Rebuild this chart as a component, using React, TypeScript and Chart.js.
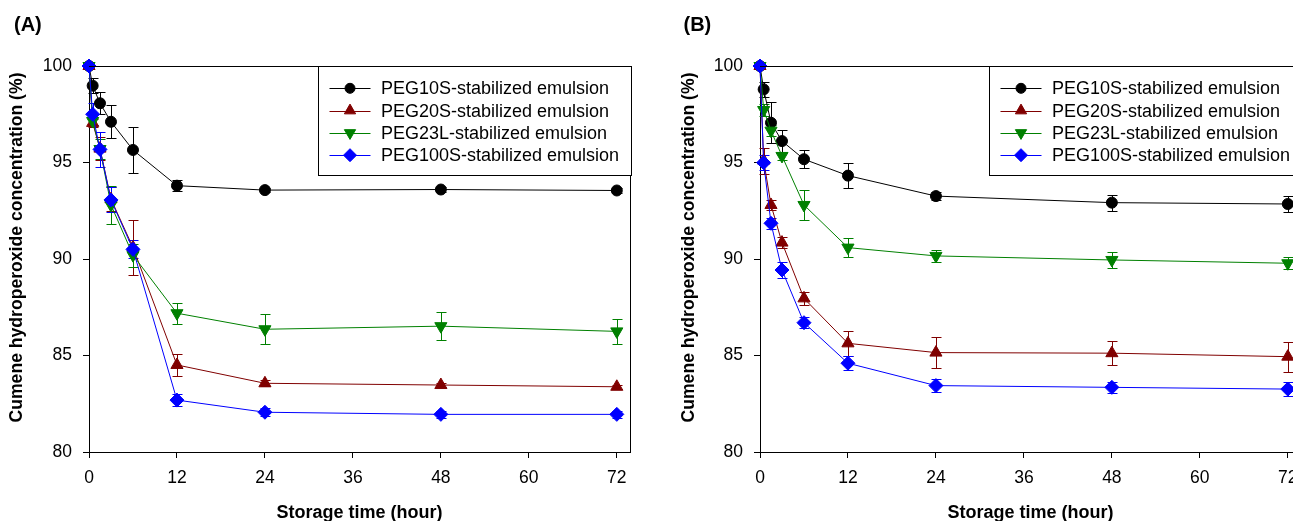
import React, { useEffect, useRef } from 'react';
import { Chart, registerables } from 'chart.js';

Chart.register(...registerables);

// ---------- data ----------
const hours = [0, 0.5, 1.5, 3, 6, 12, 24, 48, 72];
const xTickValues = [0, 12, 24, 36, 48, 60, 72];
const yTickValues = [80, 85, 90, 95, 100];
const seriesNames = [
  'PEG10S-stabilized emulsion',
  'PEG20S-stabilized emulsion',
  'PEG23L-stabilized emulsion',
  'PEG100S-stabilized emulsion',
];
const xAxisTitle = 'Storage time (hour)';
const yAxisTitle = 'Cumene hydroperoxide concentration (%)';

// Panel A
const peg10sA = [100, 98.98, 98.07, 97.11, 95.65, 93.8, 93.57, 93.6, 93.55];
const peg10sAErr = [0, 0.4, 0.58, 0.86, 1.21, 0.28, 0.1, 0.15, 0.15];
const peg20sA = [100, 97.05, 95.72, 93.1, 90.6, 84.51, 83.56, 83.47, 83.38];
const peg20sAErr = [0, 0.2, 0.6, 0.62, 1.42, 0.56, 0.15, 0.12, 0.1];
const peg23lA = [100, 97.15, 95.7, 92.8, 90.2, 87.19, 86.36, 86.52, 86.25];
const peg23lAErr = [0, 0.2, 0.5, 1.0, 0.6, 0.55, 0.77, 0.73, 0.66];
const peg100sA = [100, 97.5, 95.68, 93.06, 90.5, 82.69, 82.06, 81.95, 81.95];
const peg100sAErr = [0, 0.56, 0.9, 0.65, 0.47, 0.3, 0.2, 0.2, 0.2];

// Panel B
const peg10sB = [100, 98.79, 97.06, 96.11, 95.17, 94.32, 93.26, 92.92, 92.85];
const peg10sBErr = [0, 0.39, 1.05, 0.59, 0.47, 0.66, 0.2, 0.41, 0.4];
const peg20sB = [100, 95.1, 92.8, 90.85, 87.96, 85.63, 85.15, 85.12, 84.94];
const peg20sBErr = [0, 0.67, 0.25, 0.3, 0.35, 0.66, 0.8, 0.61, 0.77];
const peg23lB = [100, 97.72, 96.65, 95.34, 92.8, 90.59, 90.16, 89.95, 89.78];
const peg23lBErr = [0, 0.3, 0.3, 0.2, 0.8, 0.5, 0.3, 0.41, 0.3];
const peg100sB = [100, 94.99, 91.85, 89.43, 86.7, 84.6, 83.44, 83.35, 83.26];
const peg100sBErr = [0, 0.4, 0.3, 0.4, 0.3, 0.35, 0.35, 0.3, 0.35];

// ---------- styles ----------
const FONT = "'Liberation Sans', Arial, Helvetica, sans-serif";
const seriesStyles = [
  { color: '#000000', shape: 'circle', radius: 5.5, rotation: 0 },
  { color: '#800000', shape: 'triangle', radius: 7, rotation: 0 },
  { color: '#008000', shape: 'triangle', radius: 7, rotation: 180 },
  { color: '#0000ff', shape: 'rectRot', radius: 7, rotation: 0 },
];

const CW = 671;
const CH = 521;

function drawMarker(ctx: CanvasRenderingContext2D, shape: string, x: number, y: number, r: number, rot: number, color: string) {
  ctx.save();
  ctx.fillStyle = color;
  ctx.strokeStyle = color;
  ctx.lineWidth = 1;
  ctx.beginPath();
  if (shape === 'circle') {
    ctx.arc(x, y, r, 0, Math.PI * 2);
  } else if (shape === 'triangle') {
    const base = (rot * Math.PI) / 180;
    for (let k = 0; k < 3; k++) {
      const a = base + (k * 2 * Math.PI) / 3;
      const px = x + Math.sin(a) * r;
      const py = y - Math.cos(a) * r;
      if (k === 0) ctx.moveTo(px, py);
      else ctx.lineTo(px, py);
    }
    ctx.closePath();
  } else {
    ctx.moveTo(x - r, y);
    ctx.lineTo(x, y - r);
    ctx.lineTo(x + r, y);
    ctx.lineTo(x, y + r);
    ctx.closePath();
  }
  ctx.fill();
  ctx.stroke();
  ctx.restore();
}

type PanelProps = {
  values: number[][];
  errors: number[][];
  letter: string;
  letterX: number;
  yTitleX: number;
  left: number;
};

function Panel({ values, errors, letter, letterX, yTitleX, left }: PanelProps) {
  const ref = useRef<HTMLCanvasElement>(null);

  useEffect(() => {
    const canvas = ref.current;
    if (!canvas) return;

    const decor = {
      id: 'decor',
      beforeDatasetsDraw(chart: any) {
        const ctx: CanvasRenderingContext2D = chart.ctx;
        const xs = chart.scales.x;
        const ys = chart.scales.y;
        chart.data.datasets.forEach((ds: any) => {
          const errs: number[] = ds.errors;
          ctx.save();
          ctx.strokeStyle = ds.borderColor;
          ctx.lineWidth = 1;
          ds.data.forEach((pt: any, i: number) => {
            const e = errs[i];
            if (!e) return;
            const px = Math.round(xs.getPixelForValue(pt.x)) + 0.5;
            const yt = Math.round(ys.getPixelForValue(pt.y + e)) + 0.5;
            const yb = Math.round(ys.getPixelForValue(pt.y - e)) + 0.5;
            ctx.beginPath();
            ctx.moveTo(px, yt);
            ctx.lineTo(px, yb);
            ctx.moveTo(px - 5, yt);
            ctx.lineTo(px + 5, yt);
            ctx.moveTo(px - 5, yb);
            ctx.lineTo(px + 5, yb);
            ctx.stroke();
          });
          ctx.restore();
        });
      },
      afterDraw(chart: any) {
        const ctx: CanvasRenderingContext2D = chart.ctx;
        const a = chart.chartArea;
        ctx.save();
        // frame (top + right)
        ctx.strokeStyle = '#000';
        ctx.lineWidth = 1;
        ctx.beginPath();
        ctx.moveTo(a.left, a.top + 0.5);
        ctx.lineTo(a.right + 0.5, a.top + 0.5);
        ctx.lineTo(a.right + 0.5, a.bottom);
        ctx.stroke();

        // legend
        const bx = Math.round(a.left + 229) + 0.5;
        const by = a.top + 0.5;
        const bw = a.right + 1.5 - bx;
        const bh = 109;
        ctx.fillStyle = '#fff';
        ctx.fillRect(bx, by, bw, bh);
        ctx.strokeRect(bx, by, bw, bh);
        ctx.font = `18px ${FONT}`;
        ctx.textAlign = 'left';
        ctx.textBaseline = 'middle';
        seriesNames.forEach((name, k) => {
          const st = seriesStyles[k];
          const ry = a.top + 22.3 + k * 22.3;
          ctx.strokeStyle = st.color;
          ctx.lineWidth = 1;
          ctx.beginPath();
          ctx.moveTo(bx + 11, Math.round(ry) + 0.5);
          ctx.lineTo(bx + 52, Math.round(ry) + 0.5);
          ctx.stroke();
          drawMarker(ctx, st.shape, bx + 31.5, ry, st.radius - 0.5, st.rotation, st.color);
          ctx.fillStyle = '#000';
          ctx.fillText(name, bx + 62.5, ry + 1);
        });

        // axis titles
        ctx.fillStyle = '#000';
        ctx.font = `bold 18px ${FONT}`;
        ctx.textAlign = 'center';
        ctx.textBaseline = 'alphabetic';
        ctx.fillText(xAxisTitle, (a.left + a.right) / 2, 518);
        ctx.save();
        ctx.translate(yTitleX, 247.5);
        ctx.rotate(-Math.PI / 2);
        ctx.font = `bold 17.6px ${FONT}`;
        ctx.fillText(yAxisTitle, 0, 0);
        ctx.restore();

        // panel letter
        ctx.font = `bold 20px ${FONT}`;
        ctx.textAlign = 'left';
        ctx.fillText(letter, letterX, 31);
        ctx.restore();
      },
    };

    const datasets = values.map((vals, k) => {
      const st = seriesStyles[k];
      return {
        label: seriesNames[k],
        data: hours.map((h, i) => ({ x: h, y: vals[i] })),
        errors: errors[k],
        borderColor: st.color,
        backgroundColor: st.color,
        borderWidth: 1,
        pointStyle: st.shape,
        pointRadius: st.radius,
        pointRotation: st.rotation,
        pointBackgroundColor: st.color,
        pointBorderColor: st.color,
        pointBorderWidth: 1,
        tension: 0,
        clip: false,
        order: 3 - k,
      } as any;
    });

    const chart = new Chart(canvas, {
      type: 'line',
      data: { datasets },
      options: {
        animation: false,
        responsive: false,
        devicePixelRatio: 1,
        events: [],
        layout: { padding: { left: 0, top: 66, right: CW - 630, bottom: 0 } },
        plugins: { legend: { display: false }, tooltip: { enabled: false }, title: { display: false } },
        scales: {
          x: {
            type: 'linear',
            min: 0,
            max: 73.8,
            afterBuildTicks: (s: any) => {
              s.ticks = xTickValues.map((v) => ({ value: v }));
            },
            afterFit: (s: any) => {
              s.height = CH - 452;
            },
            grid: { display: true, drawOnChartArea: false, drawTicks: true, tickLength: 6, color: '#000', lineWidth: 1 },
            border: { display: true, color: '#000', width: 1 },
            ticks: { color: '#000', font: { family: FONT, size: 17.5 }, padding: 10, maxRotation: 0, autoSkip: false },
          },
          y: {
            type: 'linear',
            min: 80,
            max: 100,
            afterBuildTicks: (s: any) => {
              s.ticks = yTickValues.map((v) => ({ value: v }));
            },
            afterFit: (s: any) => {
              s.width = 89;
            },
            grid: { display: true, drawOnChartArea: false, drawTicks: true, tickLength: 6, color: '#000', lineWidth: 1 },
            border: { display: true, color: '#000', width: 1 },
            ticks: { color: '#000', font: { family: FONT, size: 17.5 }, padding: 11, autoSkip: false },
          },
        },
      } as any,
      plugins: [decor],
    });

    return () => chart.destroy();
  }, []);

  return (
    <canvas
      ref={ref}
      width={CW}
      height={CH}
      style={{ position: 'absolute', left, top: 0, width: CW, height: CH, display: 'block' }}
    />
  );
}

export default function App() {
  return (
    <div
      style={{
        position: 'fixed',
        left: 0,
        top: 0,
        width: 1293,
        height: 521,
        overflow: 'hidden',
        background: '#fff',
      }}
    >
      <Panel
        values={[peg10sA, peg20sA, peg23lA, peg100sA]}
        errors={[peg10sAErr, peg20sAErr, peg23lAErr, peg100sAErr]}
        letter="(A)"
        letterX={14}
        yTitleX={21.5}
        left={0}
      />
      <Panel
        values={[peg10sB, peg20sB, peg23lB, peg100sB]}
        errors={[peg10sBErr, peg20sBErr, peg23lBErr, peg100sBErr]}
        letter="(B)"
        letterX={12.5}
        yTitleX={23}
        left={671}
      />
    </div>
  );
}
